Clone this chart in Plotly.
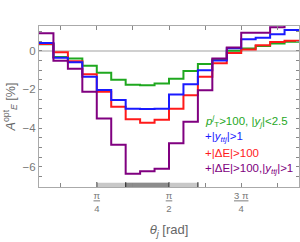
import numpy as np
import plotly.graph_objects as go

# 18 bins in theta_j, width pi/20, from pi/20 to 19pi/20
bin_edges = [k * np.pi / 20 for k in range(1, 20)]

green = [0.33, -0.33, -0.40, -0.78, -1.14, -1.50, -1.76, -1.79, -1.69,
         -1.45, -1.05, -0.68, -0.45, 0.00, 0.12, 0.25, 0.38, 0.47]
red = [0.35, -0.08, -0.55, -1.22, -2.12, -2.90, -3.55, -3.72, -3.57,
       -3.00, -2.30, -1.35, -0.65, -0.12, 0.07, 0.28, 0.45, 0.52]
blue = [0.40, -0.36, -0.60, -1.34, -2.03, -2.55, -3.00, -3.02, -3.00,
        -2.26, -1.74, -1.01, -0.50, 0.13, 0.59, 0.67, 0.85, 1.07]
purple = [0.90, -0.52, -0.93, -2.12, -3.50, -4.87, -6.36, -6.24, -6.10,
          -4.79, -3.67, -2.04, -0.40, 0.17, 0.93, 0.93, 1.21, 1.60]

series = [
    ("green", green, "#1fa81f"),
    ("red", red, "#ff1a1a"),
    ("blue", blue, "#1a1aff"),
    ("purple", purple, "#800080"),
]

labels = [
    ("<i>p</i><sup><i>j</i></sup><sub>T</sub>&gt;100, |<i>y</i><sub><i>j</i></sub>|&lt;2.5", "#1fa81f"),
    ("+|<i>y</i><sub><i>ttj</i></sub>|&gt;1", "#1a1aff"),
    ("+|ΔE|&gt;100", "#ff1a1a"),
    ("+|ΔE|&gt;100,|<i>y</i><sub><i>ttj</i></sub>|&gt;1", "#800080"),
]

x_tickvals = [k * np.pi / 8 for k in range(1, 8)]
x_ticktext = ["", "<u>π</u><br>4", "", "<u>π</u><br>2", "", "<u>3 π</u><br>4", ""]

y_tickvals = [v / 2 for v in range(-14, 3)]
y_ticktext = [("−" + str(int(-v)) if v < 0 else str(int(v))) if v % 2 == 0 else "" for v in y_tickvals]

# detector-region band edges (theta)
band_light = (5 * np.pi / 20, 12 * np.pi / 20)
band_dark = (7 * np.pi / 20, 10 * np.pi / 20)

fig = go.Figure()
for name, vals, col in series:
    fig.add_trace(go.Scatter(
        x=bin_edges, y=vals + [vals[-1]], mode="lines", line_shape="hv",
        line=dict(color=col, width=2), name=name, showlegend=False,
        cliponaxis=True,
    ))

fig.add_shape(type="rect", xref="x", yref="paper", x0=band_light[0], x1=band_light[1],
              y0=0, y1=0.027, fillcolor="#c8c8c8", line=dict(width=0), layer="below")
fig.add_shape(type="rect", xref="x", yref="paper", x0=band_dark[0], x1=band_dark[1],
              y0=0, y1=0.027, fillcolor="#8c8c8c", line=dict(width=0), layer="below")
for xe in [band_light[0], band_dark[0], band_dark[1], band_light[1]]:
    fig.add_shape(type="line", xref="x", yref="paper", x0=xe, x1=xe, y0=0, y1=0.03,
                  line=dict(color="#333333", width=1.2), layer="below")

ys = [0.41, 0.311, 0.211, 0.112]
for (txt, col), yy in zip(labels, ys):
    fig.add_annotation(text=txt, xref="paper", yref="paper", x=0.632, y=yy,
                       xanchor="left", yanchor="middle", showarrow=False,
                       font=dict(color=col, size=11.5, family="Liberation Sans"))

fig.update_layout(
    width=300, height=242,
    margin=dict(l=39, r=1, t=26, b=55, autoexpand=False),
    paper_bgcolor="white", plot_bgcolor="white",
    font=dict(family="Liberation Sans", color="#666666"),
    xaxis=dict(
        range=[np.pi / 20, 19 * np.pi / 20], tickvals=x_tickvals, ticktext=x_ticktext,
        ticks="inside", ticklen=4, tickcolor="#888888", showline=True, mirror="ticks",
        linecolor="#aaaaaa", linewidth=1, showgrid=False, zeroline=False,
        tickfont=dict(size=9.5, color="#777777"), automargin=False,
        title=dict(text="<i>θ<sub>j</sub></i> [rad]", font=dict(size=13, color="#666666"), standoff=12),
    ),
    yaxis=dict(
        range=[-7.05, 1.28], tickvals=y_tickvals, ticktext=y_ticktext,
        ticks="inside", ticklen=3, tickcolor="#888888", showline=True, mirror="ticks",
        linecolor="#aaaaaa", linewidth=1, showgrid=False, automargin=False,
        zeroline=True, zerolinecolor="#d0d0d0", zerolinewidth=1.5,
        tickfont=dict(size=11.5, color="#777777"),
        title=dict(text="<i>A</i><sup>opt</sup><sub><i>E</i></sub> [%]", font=dict(size=12.5, color="#666666"), standoff=4),
    ),
)

fig.write_html("out.html", config={"displayModeBar": False},
               post_script="document.body.style.margin='0';document.body.style.overflow='hidden';")
